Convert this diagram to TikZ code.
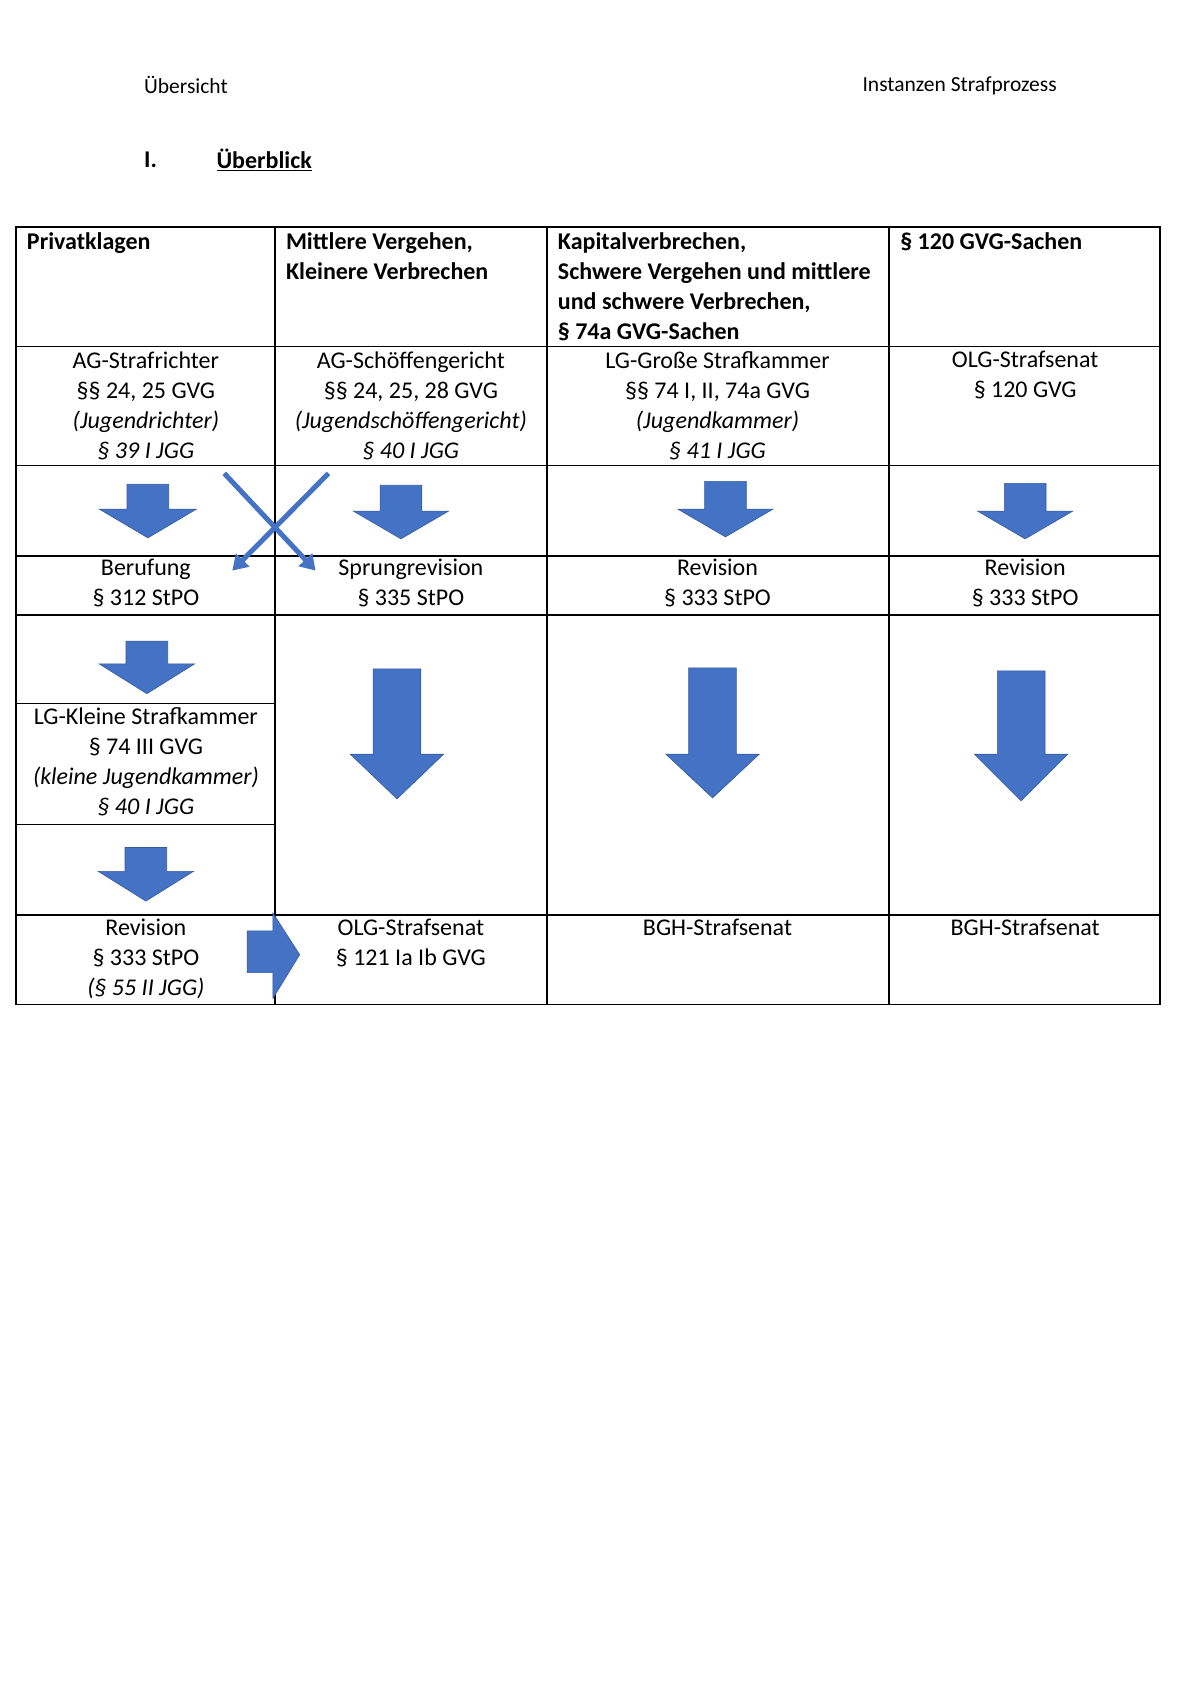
\documentclass[tikz,border=0pt]{standalone}
\usepackage{fontspec}
\setmainfont{Carlito}
\usetikzlibrary{arrows.meta}
\definecolor{arrowblue}{HTML}{4472C4}

\tikzset{
  grid line/.style={line width=1.6pt},
  cell/.style={anchor=north, align=center, inner sep=0pt,
    font=\fontsize{24}{30}\selectfont},
  head cell/.style={anchor=north west, align=left, inner sep=0pt,
    font=\fontsize{24}{30}\selectfont\bfseries},
  block arrow/.style={fill=arrowblue, draw=arrowblue!80!black, line width=0.6pt},
  cross arrow/.style={draw=arrowblue, line width=5pt, -{Triangle[length=15pt,width=18pt]}},
}

% down arrow: centre x, top, neck, tip, shaft half width, head half width
\newcommand{\downblock}[6]{%
  \fill[block arrow] (#1-#5,#2) -- (#1+#5,#2) -- (#1+#5,#3) -- (#1+#6,#3)
    -- (#1,#4) -- (#1-#6,#3) -- (#1-#5,#3) -- cycle;}

\begin{document}
\begin{tikzpicture}[x=0.9925pt,y=-0.9925pt]
  \useasboundingbox (0,0) rectangle (1209,1711);

  % page head
  \node[anchor=west, inner sep=0pt, font=\fontsize{21.5}{24}\selectfont] (kopf) at (145,86) {Übersicht};
  \node[anchor=east, inner sep=0pt, font=\fontsize{21.5}{24}\selectfont] (titel) at (1065,87) {Instanzen Strafprozess};
  \node[anchor=west, inner sep=0pt, font=\fontsize{24}{26}\selectfont\bfseries] (nr) at (145,161) {I.};
  \node[anchor=west, inner sep=0pt, font=\fontsize{24}{26}\selectfont\bfseries] (ueber) at (218,161) {\underline{Überblick}};

  % grid
  \draw[grid line] (16,229) rectangle (1169,1012);
  \foreach \y in {349,469,560,620,922} \draw[grid line] (16,\y) -- (1169,\y);
  \draw[grid line] (16,709) -- (277,709);
  \draw[grid line] (16,831) -- (277,831);
  \foreach \x in {277,551,896} \draw[grid line] (\x,229) -- (\x,1012);

  % column heads
  \node[head cell] (priv) at (27,234) {Privatklagen};
  \node[head cell] (mittel) at (288,234) {Mittlere Vergehen,\\Kleinere Verbrechen};
  \node[head cell] (kapital) at (562,234) {Kapitalverbrechen,\\Schwere Vergehen und mittlere\\und schwere Verbrechen,\\§ 74a GVG-Sachen};
  \node[head cell] (gvg) at (907,234) {§ 120 GVG-Sachen};

  % first instance
  \node[cell] (agstraf) at (147,354) {AG-Strafrichter\\§§ 24, 25 GVG\\\textit{(Jugendrichter)}\\\textit{§ 39 I JGG}};
  \node[cell] (agschoeff) at (414,354) {AG-Schöffengericht\\§§ 24, 25, 28 GVG\\\textit{(Jugendschöffengericht)}\\\textit{§ 40 I JGG}};
  \node[cell] (lggross) at (723,354) {LG-Große Strafkammer\\§§ 74 I, II, 74a GVG\\\textit{(Jugendkammer)}\\\textit{§ 41 I JGG}};
  \node[cell] (olg1) at (1033,354) {OLG-Strafsenat\\§ 120 GVG};

  % remedies
  \node[cell] (beruf) at (147,563) {Berufung\\§ 312 StPO};
  \node[cell] (sprung) at (414,563) {Sprungrevision\\§ 335 StPO};
  \node[cell] (rev3) at (723,563) {Revision\\§ 333 StPO};
  \node[cell] (rev4) at (1033,563) {Revision\\§ 333 StPO};

  % second instance, left column
  \node[cell] (lgklein) at (147,713) {LG-Kleine Strafkammer\\§ 74 III GVG\\\textit{(kleine Jugendkammer)}\\\textit{§ 40 I JGG}};

  % last instance
  \node[cell] (rev1) at (147,926) {Revision\\§ 333 StPO\\\textit{(§ 55 II JGG)}};
  \node[cell] (olg2) at (414,926) {OLG-Strafsenat\\§ 121 Ia Ib GVG};
  \node[cell] (bgh3) at (723,926) {BGH-Strafsenat};
  \node[cell] (bgh4) at (1033,926) {BGH-Strafsenat};

  % block arrows
  \downblock{149}{488}{513}{542}{21}{49}
  \downblock{404}{489}{515}{543}{21}{48}
  \downblock{731}{485}{513}{541}{21}{48}
  \downblock{1033}{487}{515}{543}{21}{48}
  \downblock{148}{646}{669}{699}{21}{48}
  \downblock{147}{854}{878}{908}{21}{48}
  \downblock{400}{674}{760}{805}{24}{47}
  \downblock{718}{673}{760}{804}{24}{47}
  \downblock{1029}{676}{760}{807}{24}{47}
  \fill[block arrow] (249,938) -- (275,938) -- (275,920) -- (302,962)
    -- (275,1006) -- (275,980) -- (249,980) -- cycle;

  % crossing arrows
  \coordinate (kreuzA) at (226,477);
  \coordinate (kreuzB) at (331,477);
  \coordinate (zielA) at (318,575);
  \coordinate (zielB) at (234,575);
  \draw[cross arrow] (kreuzA) -- (zielA);
  \draw[cross arrow] (kreuzB) -- (zielB);
\end{tikzpicture}
\end{document}
